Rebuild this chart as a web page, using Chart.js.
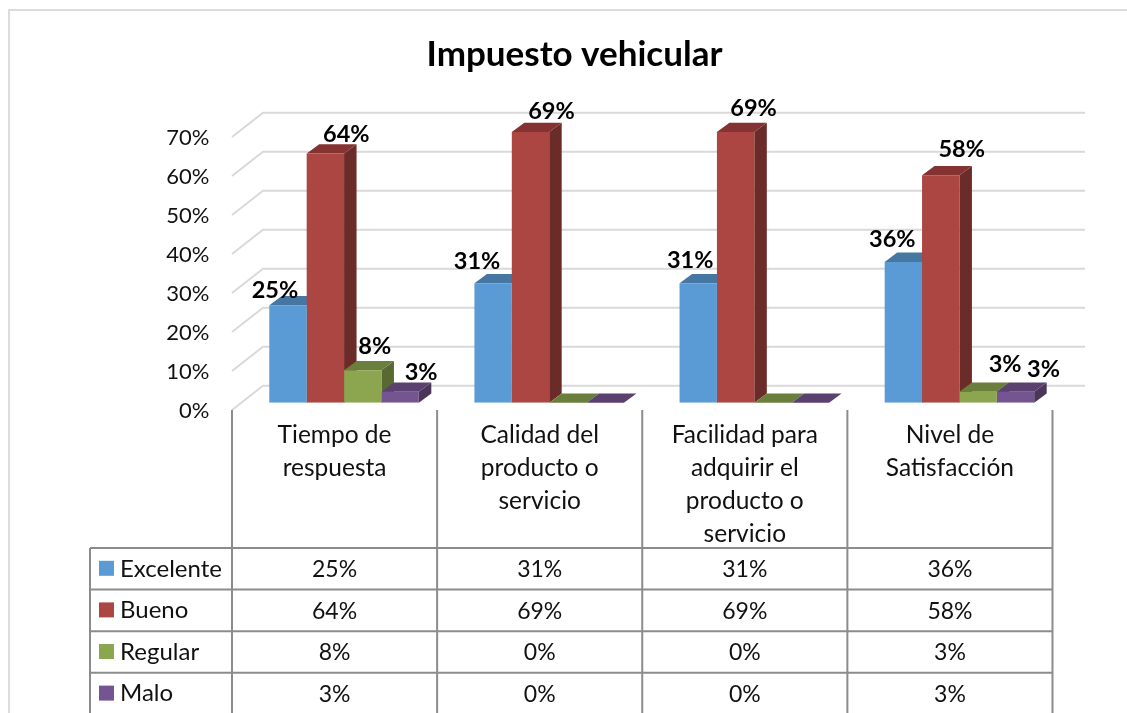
<!DOCTYPE html>
<html>
<head>
<meta charset="utf-8">
<title>Impuesto vehicular</title>
<script src="https://cdn.jsdelivr.net/npm/chart.js@4/dist/chart.umd.js"></script>
<style>
html, body { margin: 0; padding: 0; background: #fff; overflow: hidden; }
canvas { display: block; }
</style>
</head>
<body>
<canvas id="impuestoChart" width="1127" height="713"></canvas>
<script>
var TITLE = 'Impuesto vehicular';
var categories = [
    ['Tiempo de', 'respuesta'],
    ['Calidad del', 'producto o', 'servicio'],
    ['Facilidad para', 'adquirir el', 'producto o', 'servicio'],
    ['Nivel de', 'Satisfacción']
];
var excelente = [25, 30.6, 30.6, 36.1];
var bueno = [63.9, 69.4, 69.4, 58.3];
var regular = [8.3, 0, 0, 2.8];
var malo = [2.8, 0, 0, 2.8];
var yTicks = [0, 10, 20, 30, 40, 50, 60, 70];

var FONT = 'Lato, Carlito, sans-serif';
var INK = '#111111';
var GRID = '#d9d9d9';
var TABLE_LINE = '#8c8c8c';

// depth of the fake 3D: bar plane to back wall / to front edge of the side wall
var BAR_DX = 12.5, BAR_DY = 9.3;
var WALL_BACK_DX = 21.5, WALL_BACK_DY = 17;
var WALL_FRONT_DX = -9.5, WALL_FRONT_DY = 7.3;

var TABLE_LEFT = 90, TABLE_TOP = 548, ROW_H = 41.6;

var series = [
    { name: 'Excelente', values: excelente, front: '#5b9bd5', top: '#4577a2', side: '#3d6a91' },
    { name: 'Bueno', values: bueno, front: '#ab4642', top: '#843332', side: '#6b2b29' },
    { name: 'Regular', values: regular, front: '#8ba64e', top: '#6b7f3c', side: '#586932' },
    { name: 'Malo', values: malo, front: '#755591', top: '#5a416f', side: '#4a3659' }
];

// the labels sit where somebody dragged them, so each has its own nudge from the bar top
var labelNudge = [
    [[-13, -15], [-16, -22], [-8, -23], [-11, -22]],
    [[21, -19.5], [21, -21], [18, -24], [21, -26]],
    [[12, -24], null, null, [27, -27]],
    [[21, -19], null, null, [28, -22]]
];

function poly(ctx, pts, color) {
    ctx.fillStyle = color;
    ctx.beginPath();
    ctx.moveTo(pts[0][0], pts[0][1]);
    for (var i = 1; i < pts.length; i++) {
        ctx.lineTo(pts[i][0], pts[i][1]);
    }
    ctx.closePath();
    ctx.fill();
}

var wallsAndFaces = {
    id: 'wallsAndFaces',
    beforeDatasetsDraw: function(chart) {
        var ctx = chart.ctx, y = chart.scales.y, area = chart.chartArea;
        ctx.save();
        // page frame
        ctx.strokeStyle = '#dcdcdc';
        ctx.lineWidth = 2;
        ctx.beginPath();
        ctx.moveTo(9, 713);
        ctx.lineTo(9, 10);
        ctx.lineTo(1127, 10);
        ctx.stroke();
        // walls
        ctx.strokeStyle = GRID;
        ctx.lineWidth = 2;
        yTicks.forEach(function(v) {
            var p = y.getPixelForValue(v);
            ctx.beginPath();
            ctx.moveTo(area.left + WALL_FRONT_DX, p + WALL_FRONT_DY);
            ctx.lineTo(area.left + WALL_BACK_DX, p - WALL_BACK_DY);
            ctx.lineTo(area.right + WALL_BACK_DX + 1.5, p - WALL_BACK_DY);
            ctx.stroke();
        });
        // top and side faces, left to right; fronts go over them afterwards
        for (var c = 0; c < categories.length; c++) {
            for (var d = 0; d < series.length; d++) {
                var el = chart.getDatasetMeta(d).data[c];
                var l = el.x - el.width / 2, r = el.x + el.width / 2;
                poly(ctx, [[r, el.y], [r + BAR_DX, el.y - BAR_DY], [r + BAR_DX, el.base - BAR_DY], [r, el.base]], series[d].side);
                poly(ctx, [[l, el.y], [l + BAR_DX, el.y - BAR_DY], [r + BAR_DX, el.y - BAR_DY], [r, el.y]], series[d].top);
            }
        }
        ctx.restore();
    }
};

var valueLabels = {
    id: 'valueLabels',
    afterDatasetsDraw: function(chart) {
        var ctx = chart.ctx;
        ctx.save();
        ctx.fillStyle = '#000';
        ctx.font = 'bold 23.5px ' + FONT;
        ctx.textAlign = 'center';
        ctx.textBaseline = 'middle';
        series.forEach(function(s, d) {
            s.values.forEach(function(v, c) {
                var nudge = labelNudge[d][c];
                if (!nudge) return;
                var el = chart.getDatasetMeta(d).data[c];
                ctx.fillText(Math.round(v) + '%', el.x + nudge[0], el.y + nudge[1]);
            });
        });
        ctx.restore();
    }
};

var dataTable = {
    id: 'dataTable',
    afterDraw: function(chart) {
        var ctx = chart.ctx, x = chart.scales.x, area = chart.chartArea;
        var colW = x.getPixelForTick(1) - x.getPixelForTick(0);
        var left = area.left + WALL_FRONT_DX;
        var lineTop = chart.scales.y.getPixelForValue(0) + WALL_FRONT_DY;
        var i;
        ctx.save();
        ctx.strokeStyle = TABLE_LINE;
        ctx.lineWidth = 2;
        ctx.beginPath();
        for (i = 0; i <= categories.length; i++) {
            ctx.moveTo(left + i * colW, lineTop);
            ctx.lineTo(left + i * colW, 713);
        }
        ctx.moveTo(TABLE_LEFT, TABLE_TOP);
        ctx.lineTo(TABLE_LEFT, 713);
        for (i = 0; i < series.length; i++) {
            ctx.moveTo(TABLE_LEFT, TABLE_TOP + i * ROW_H);
            ctx.lineTo(left + categories.length * colW, TABLE_TOP + i * ROW_H);
        }
        ctx.stroke();

        ctx.textBaseline = 'middle';
        series.forEach(function(s, d) {
            var mid = TABLE_TOP + d * ROW_H + ROW_H / 2;
            ctx.fillStyle = s.front;
            ctx.fillRect(99, mid - 8, 15, 15);
            ctx.fillStyle = INK;
            ctx.font = '24px ' + FONT;
            ctx.textAlign = 'left';
            ctx.fillText(s.name, 120, mid);
            ctx.font = '23px ' + FONT;
            ctx.textAlign = 'center';
            s.values.forEach(function(v, c) {
                ctx.fillText(Math.round(v) + '%', left + (c + 0.5) * colW, mid + 1);
            });
        });
        ctx.restore();
    }
};

new Chart(document.getElementById('impuestoChart').getContext('2d'), {
    type: 'bar',
    data: {
        labels: categories,
        datasets: series.map(function(s) {
            return { label: s.name, data: s.values, backgroundColor: s.front, borderWidth: 0 };
        })
    },
    options: {
        responsive: false,
        animation: false,
        layout: { padding: { left: 87, right: 65, top: 34, bottom: 0 } },
        datasets: { bar: { categoryPercentage: 0.729, barPercentage: 1 } },
        plugins: {
            legend: { display: false },
            tooltip: { enabled: false },
            title: {
                display: true,
                text: TITLE,
                color: '#000',
                font: { family: FONT, size: 35, weight: 'bold', lineHeight: 1.2 },
                padding: { top: 0, bottom: 53.7 }
            }
        },
        scales: {
            x: {
                grid: { display: false, drawTicks: false },
                border: { display: false },
                afterFit: function(scale) { scale.height = 310.3; },
                ticks: {
                    color: INK,
                    font: { family: FONT, size: 24.5, lineHeight: 1.35 },
                    padding: 16,
                    labelOffset: WALL_FRONT_DX,
                    maxRotation: 0,
                    autoSkip: false
                }
            },
            y: {
                min: 0,
                max: 70,
                grid: { display: false, drawTicks: false },
                border: { display: false },
                afterFit: function(scale) { scale.width = 154.5; },
                ticks: {
                    stepSize: 10,
                    color: INK,
                    font: { family: FONT, size: 22 },
                    padding: 32,
                    labelOffset: WALL_FRONT_DY + 1,
                    callback: function(v) { return v + '%'; }
                }
            }
        }
    },
    plugins: [wallsAndFaces, valueLabels, dataTable]
});
</script>
</body>
</html>
